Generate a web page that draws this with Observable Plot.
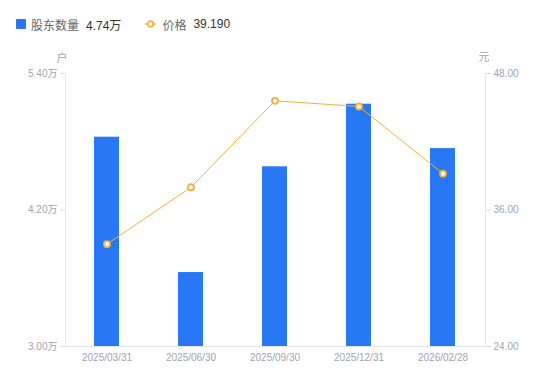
<!DOCTYPE html>
<html><head><meta charset="utf-8">
<script src="https://cdn.jsdelivr.net/npm/d3@7"></script>
<script src="https://cdn.jsdelivr.net/npm/@observablehq/plot@0.6"></script>
<style>
body{margin:0;background:#fff;font-family:"Liberation Sans","Noto Sans CJK SC",sans-serif;}
#legend{height:48px;display:flex;align-items:flex-start;font-size:12px;padding-left:16px;box-sizing:border-box;padding-top:16px;}
.item{display:flex;align-items:center;height:16px;margin-right:24px;}
.sq{width:10px;height:10px;background:#2878f5;border-radius:1px;margin-right:5px;}
.name{color:#666;margin-right:7px;}
.val{color:#333;}
</style></head><body>
<div id="legend"></div>
<div id="chart"></div>
<script>
const dates = ["2025/03/31","2025/06/30","2025/09/30","2025/12/31","2026/02/28"];
const holders = [4.84, 3.65, 4.58, 5.13, 4.74];   // 万户
const prices = [33.0, 38.0, 45.6, 45.1, 39.19];   // 元
const leftTicks = [3.00, 4.20, 5.40];
const rightTicks = [24, 36, 48];
const seriesNames = ["股东数量", "价格"];
const lastHolder = "4.74万";
const lastPrice = "39.190";

const blue = "#2878f5", orange = "#f7b035";
const L0 = 3.0, L1 = 5.4, R0 = 24, R1 = 48;
const toLeft = p => L0 + (p - R0) / (R1 - R0) * (L1 - L0);
const toRight = v => R0 + (v - L0) / (L1 - L0) * (R1 - R0);

const data = dates.map((d, i) => ({date: d, holders: holders[i], price: toLeft(prices[i])}));

document.getElementById("legend").innerHTML =
  `<div class="item"><div class="sq"></div><span class="name">${seriesNames[0]}</span><span class="val">${lastHolder}</span></div>` +
  `<div class="item"><svg width="11" height="10" style="margin-right:6px"><line x1="0" x2="11" y1="5" y2="5" stroke="${orange}" stroke-width="1.5"/><circle cx="5.5" cy="5" r="2.8" fill="#fff" stroke="${orange}" stroke-width="1.8"/></svg><span class="name">${seriesNames[1]}</span><span class="val">${lastPrice}</span></div>`;

const chart = Plot.plot({
  width: 550, height: 333,
  marginTop: 25, marginBottom: 35, marginLeft: 65, marginRight: 65,
  style: {fontFamily: '"Liberation Sans","Noto Sans CJK SC",sans-serif', fontSize: "10px", color: "#a0a4b0", background: "#fff"},
  x: {domain: dates, paddingInner: 0.7, paddingOuter: 0.35},
  y: {domain: [L0, L1]},
  marks: [
    Plot.frame({anchor: "left", stroke: "#e6e6e6"}),
    Plot.frame({anchor: "right", stroke: "#e6e6e6"}),
    Plot.barY(data, {x: "date", y1: L0, y2: "holders", fill: blue}),
    Plot.axisY({ticks: leftTicks, tickFormat: d => d.toFixed(2) + "万", tickSize: 5, tickPadding: 3, stroke: "#ddd", label: null, fill: "#a0a4b0"}),
    Plot.axisY({anchor: "right", ticks: rightTicks.map(toLeft), tickFormat: v => toRight(v).toFixed(2), tickSize: 5, tickPadding: 3, stroke: "#ddd", label: null, fill: "#a0a4b0"}),
    Plot.ruleY([L0], {stroke: "#e6e6e6"}),
    Plot.axisX({tickSize: 0, tickPadding: 7, label: null, fill: "#a0a4b0"}),
    Plot.line(data, {x: "date", y: "price", stroke: orange, strokeWidth: 1}),
    Plot.dot(data, {x: "date", y: "price", r: 3, fill: "#fff", stroke: orange, strokeWidth: 1.8}),
    Plot.text(["户"], {frameAnchor: "top-left", dx: -9, dy: -19, fill: "#a0a4b0", fontSize: 11}),
    Plot.text(["元"], {frameAnchor: "top-right", dx: 4, dy: -20, fill: "#a0a4b0", fontSize: 11})
  ]
});
document.getElementById("chart").appendChild(chart);
</script>
</body></html>
